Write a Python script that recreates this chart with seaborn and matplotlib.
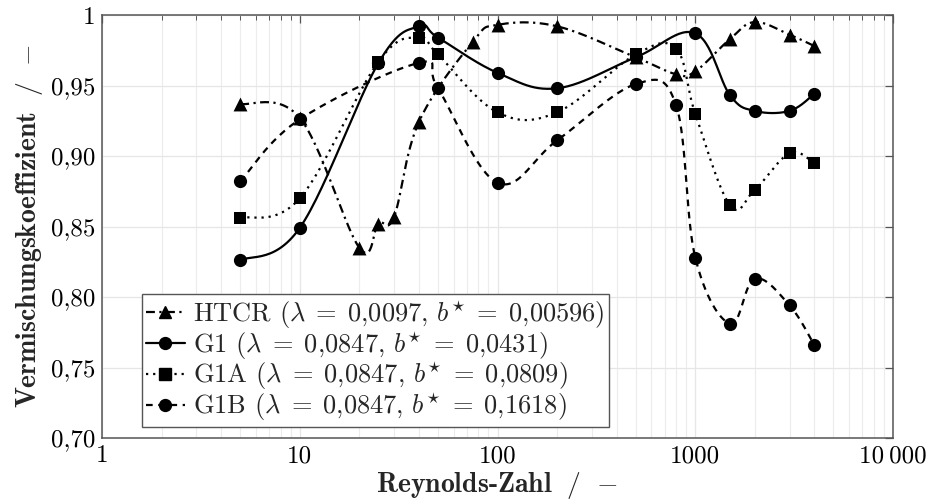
import numpy as np
import pandas as pd
import matplotlib
matplotlib.use("Agg")
import matplotlib.pyplot as plt
from matplotlib.lines import Line2D
from matplotlib.ticker import FixedLocator, FixedFormatter, LogLocator, NullFormatter
import seaborn as sns

# ---------------- data ----------------
re_htcr = [5, 10, 20, 25, 30, 40, 75, 100, 200, 500, 800, 1000, 1500, 2000, 3000, 4000]
k_htcr = [0.937, 0.927, 0.835, 0.852, 0.857, 0.924, 0.981, 0.993, 0.992, 0.970, 0.958,
          0.960, 0.983, 0.995, 0.986, 0.978]

re_g1 = [5, 10, 25, 40, 50, 100, 200, 500, 1000, 1500, 2000, 3000, 4000]
k_g1 = [0.826, 0.849, 0.966, 0.992, 0.984, 0.959, 0.948, 0.970, 0.987, 0.943, 0.932,
        0.932, 0.944]

re_g1a = [5, 10, 25, 40, 50, 100, 200, 500, 800, 1000, 1500, 2000, 3000, 4000]
k_g1a = [0.856, 0.870, 0.967, 0.984, 0.972, 0.931, 0.931, 0.972, 0.976, 0.930, 0.865,
         0.876, 0.902, 0.895]

re_g1b = [5, 10, 40, 50, 100, 200, 500, 800, 1000, 1500, 2000, 3000, 4000]
k_g1b = [0.882, 0.926, 0.966, 0.948, 0.881, 0.911, 0.951, 0.936, 0.828, 0.781, 0.813,
         0.794, 0.766]

series_labels = [
    r"HTCR ($\lambda\;=\;0{,}0097$, $b^{\star}\;=\;0{,}00596$)",
    r"G1 ($\lambda\;=\;0{,}0847$, $b^{\star}\;=\;0{,}0431$)",
    r"G1A ($\lambda\;=\;0{,}0847$, $b^{\star}\;=\;0{,}0809$)",
    r"G1B ($\lambda\;=\;0{,}0847$, $b^{\star}\;=\;0{,}1618$)",
]

x_ticks = [1, 10, 100, 1000, 10000]
x_tick_labels = ["1", "10", "100", "1000", "10\u2009000"]
y_ticks = [0.70, 0.75, 0.80, 0.85, 0.90, 0.95, 1.0]
y_tick_labels = ["0,70", "0,75", "0,80", "0,85", "0,90", "0,95", "1"]

x_label = r"Reynolds-Zahl $\;/\;$ $-$"
y_label = r"Vermischungskoeffizient $\;/\;$ $-$"

# ---------------- style ----------------
sns.set_theme(style="white")
plt.rcParams["font.family"] = ["cmr10", "DejaVu Serif"]
plt.rcParams["mathtext.fontset"] = "cm"
plt.rcParams["axes.unicode_minus"] = False
plt.rcParams["axes.formatter.use_mathtext"] = True


def smooth_curve(x, y, k=0.18, n=30):
    """pgfplots-like smooth curve (Bezier through points in display-proportional space)."""
    u = np.log10(np.asarray(x, float)) * 198.0
    v = np.asarray(y, float) * 1406.0
    P = np.column_stack([u, v])
    m = len(P)
    out = [P[0]]
    t = np.linspace(0, 1, n)[1:, None]
    for i in range(m - 1):
        p0, p3 = P[i], P[i + 1]
        prev = P[i - 1] if i > 0 else P[i]
        nxt = P[i + 2] if i + 2 < m else P[i + 1]
        c1 = p0 + k * (p3 - prev)
        c2 = p3 - k * (nxt - p0)
        B = (1 - t) ** 3 * p0 + 3 * (1 - t) ** 2 * t * c1 + 3 * (1 - t) * t ** 2 * c2 + t ** 3 * p3
        out.extend(B)
    out = np.array(out)
    return 10 ** (out[:, 0] / 198.0), out[:, 1] / 1406.0


fig = plt.figure(figsize=(9.31, 5.03), dpi=100)
ax = fig.add_axes([102 / 931, 1 - 438 / 503, (893 - 102) / 931, (438 - 15) / 503])

lw = 1.6
styles = [
    dict(ls=(0, (4.0, 2.0, 1.0, 2.0)), marker="^", ms=10.0),
    dict(ls="-", marker="o", ms=9.5),
    dict(ls=(0, (1.0, 2.2)), marker="s", ms=9.0),
    dict(ls=(0, (3.0, 2.5)), marker="o", ms=9.5),
]
datasets = [(re_htcr, k_htcr), (re_g1, k_g1), (re_g1a, k_g1a), (re_g1b, k_g1b)]

handles = []
for (xs, ys), st, lab in zip(datasets, styles, series_labels):
    sx, sy = smooth_curve(xs, ys)
    df_curve = pd.DataFrame({"Re": sx, "k": sy})
    sns.lineplot(data=df_curve, x="Re", y="k", sort=False, estimator=None, ax=ax,
                 color="black", lw=lw, linestyle=st["ls"], zorder=3)
    df_pts = pd.DataFrame({"Re": xs, "k": ys})
    sns.scatterplot(data=df_pts, x="Re", y="k", ax=ax, marker=st["marker"],
                    s=st["ms"] ** 2, color="black", edgecolor="black", linewidth=0, zorder=4)
    handles.append(Line2D([], [], color="black", lw=lw, linestyle=st["ls"],
                          marker=st["marker"], markersize=st["ms"] * 0.9, label=lab))

ax.set_xscale("log")
ax.set_xlim(1, 10000)
ax.set_ylim(0.70, 1.0)

ax.xaxis.set_major_locator(FixedLocator(x_ticks))
ax.xaxis.set_major_formatter(FixedFormatter(x_tick_labels))
ax.xaxis.set_minor_locator(LogLocator(base=10, subs=np.arange(2, 10), numticks=20))
ax.xaxis.set_minor_formatter(NullFormatter())
ax.yaxis.set_major_locator(FixedLocator(y_ticks))
ax.yaxis.set_major_formatter(FixedFormatter(y_tick_labels))

ax.grid(True, which="major", axis="both", color="#e6e6e6", lw=0.9, zorder=0)
ax.grid(True, which="minor", axis="x", color="#ececec", lw=0.8, zorder=0)
ax.set_axisbelow(True)

for sp in ax.spines.values():
    sp.set_color("#555555")
    sp.set_linewidth(1.1)

ax.tick_params(which="both", direction="in", top=True, right=True, color="#555555",
               labelsize=18, pad=5)
ax.tick_params(which="major", length=6, width=0.9)
ax.tick_params(which="minor", length=3.5, width=0.7)
for t in ax.get_xticklabels() + ax.get_yticklabels():
    t.set_color("black")

ax.set_xlabel(x_label, fontsize=20, fontfamily=["cmb10", "DejaVu Serif"], labelpad=2)
ax.set_ylabel(y_label, fontsize=20, fontfamily=["cmb10", "DejaVu Serif"], labelpad=4)

leg = ax.legend(handles=handles, loc="lower left", bbox_to_anchor=(0.05, 0.025),
                fontsize=19, frameon=True, fancybox=False, edgecolor="#555555",
                framealpha=1, handlelength=1.5, handletextpad=0.3, labelspacing=-0.05,
                borderpad=0.15, borderaxespad=0.0)
leg.get_frame().set_linewidth(1.0)

fig.savefig("out.png", dpi=100)
